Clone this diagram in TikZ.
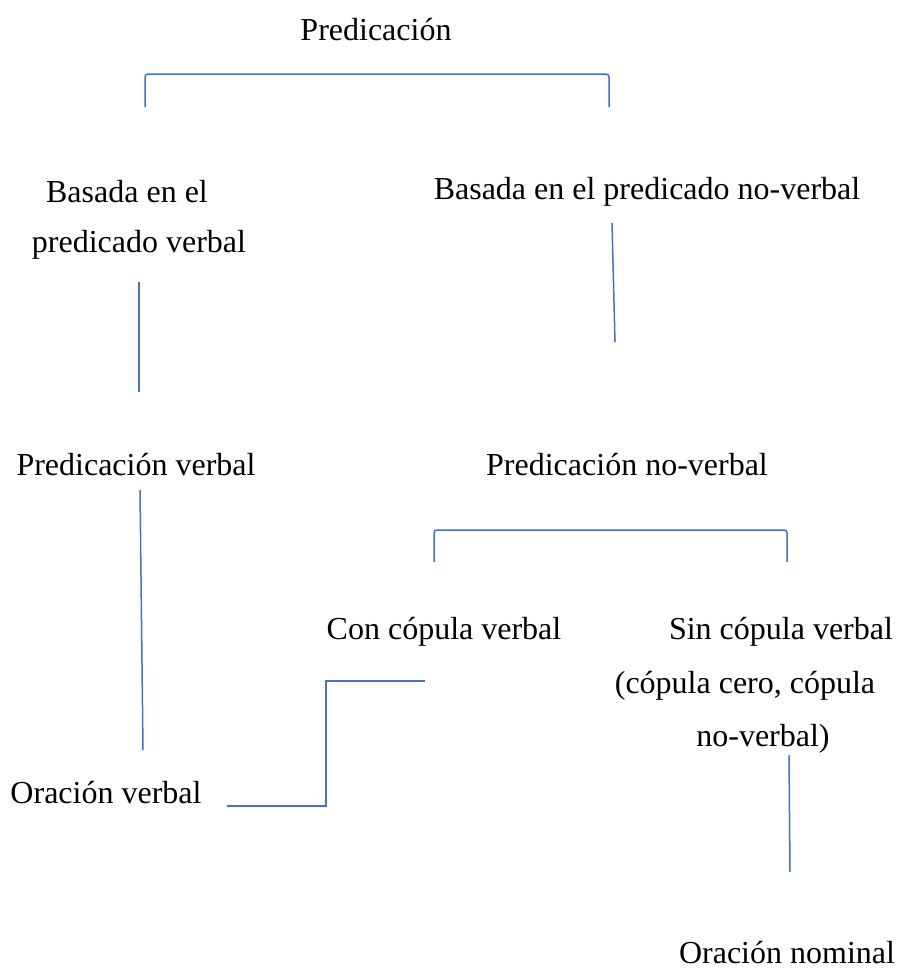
\documentclass[tikz,border=0pt]{standalone}
\usepackage{fontspec}
\setmainfont{Liberation Serif}
\usetikzlibrary{positioning}

\definecolor{cLine}{HTML}{4472C4}

\begin{document}
\begin{tikzpicture}[
  x=1pt, y=-1pt,
  font=\fontsize{32}{38}\selectfont,
  every node/.style={inner sep=0pt},
  branch/.style={draw=cLine, line width=1.5pt},
]

\useasboundingbox (0,0) rectangle (900,977);

% =====================================================================
% Labels
% =====================================================================
\node (root)      at (376, 30) {Predicación};

\node (verbBaseA) at (127,192) {Basada en el};
\node (verbBaseB) at (139,245) {predicado verbal};
\node (nonBase)   at (647,192) {Basada en el predicado no-verbal};

\node (verbPred)  at (136,465) {Predicación verbal};
\node (nonPred)   at (627,465) {Predicación no-verbal};

\node (withCop)   at (444,632) {Con cópula verbal};
\node (noCopA)    at (781,632) {Sin cópula verbal};
\node (noCopB)    at (745,686) {(cópula cero, cópula};
\node (noCopC)    at (763,739) {no-verbal)};

\node (verbSent)  at (106,793) {Oración verbal};
\node (nomSent)   at (787,953) {Oración nominal};

% =====================================================================
% Line end points
% =====================================================================
\coordinate (rootL)  at (145,107);
\coordinate (rootR)  at (609,107);
\pgfmathsetmacro{\rootY}{74}

\coordinate (vbTop)  at (139,282);
\coordinate (vbBot)  at (139,392);
\coordinate (nbTop)  at (612,223);
\coordinate (nbBot)  at (615,342);

\coordinate (vpTop)  at (140,490);
\coordinate (vpBot)  at (143,750);

\coordinate (npL)    at (434,562);
\coordinate (npR)    at (787,562);
\pgfmathsetmacro{\npY}{530}

\coordinate (wcEnd)  at (425,681);
\coordinate (vsEnd)  at (227,806);
\pgfmathsetmacro{\stepX}{326}

\coordinate (ncTop)  at (789,755);
\coordinate (ncBot)  at (790,872);

% =====================================================================
% Branches
% =====================================================================
% top bracket
\draw[branch, rounded corners=3pt]
  (rootL) -- (rootL |- 0,\rootY) -- (rootR |- 0,\rootY) -- (rootR);

\draw[branch] (vbTop) -- (vbBot);
\draw[branch] (nbTop) -- (nbBot);
\draw[branch] (vpTop) -- (vpBot);

% bracket under "Predicación no-verbal"
\draw[branch, rounded corners=3pt]
  (npL) -- (npL |- 0,\npY) -- (npR |- 0,\npY) -- (npR);

% step from "Con cópula verbal" down to "Oración verbal"
\draw[branch]
  (wcEnd) -- (\stepX,0 |- wcEnd) -- (\stepX,0 |- vsEnd) -- (vsEnd);

\draw[branch] (ncTop) -- (ncBot);

\end{tikzpicture}
\end{document}
